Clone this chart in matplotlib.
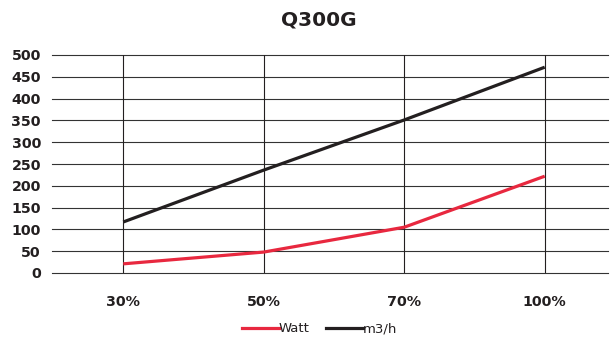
import matplotlib
matplotlib.use("Agg")
import matplotlib.pyplot as plt
from matplotlib.lines import Line2D

categories = ["30%", "50%", "70%", "100%"]
watt = [21, 48, 105, 222]
flow = [117, 236, 351, 472]
yticks = [0, 50, 100, 150, 200, 250, 300, 350, 400, 450, 500]
series_names = ["Watt", "m3/h"]
series_colors = ["#e8283f", "#231f20"]

plt.rcParams["font.family"] = ["DejaVu Sans"]

fig = plt.figure(figsize=(6.11, 3.37), dpi=100)
ax = fig.add_axes([52 / 611, 1 - 273 / 337, 1 - 52 / 611 - 0.005, 218 / 337])

x = list(range(len(categories)))
ax.plot(x, watt, color=series_colors[0], lw=2.3, solid_capstyle="butt", zorder=3)
ax.plot(x, flow, color=series_colors[1], lw=2.3, solid_capstyle="butt", zorder=3)

ax.set_xlim(-0.507, 3.45)
ax.set_ylim(0, 500)
ax.set_yticks(yticks)
ax.set_yticklabels([str(v) for v in yticks], fontsize=10.3, fontweight="bold", color="#231f20")
ax.set_xticks(x)
ax.set_xticklabels(categories, fontsize=10.3, fontweight="bold", color="#231f20")
ax.tick_params(axis="both", length=0)
ax.tick_params(axis="y", pad=8)
ax.tick_params(axis="x", pad=16)

for v in yticks:
    ax.axhline(v, color="#333333", lw=0.8, zorder=1, clip_on=False)
for xi in x:
    ax.axvline(xi, color="#231f20", lw=0.8, zorder=1)
for s in ax.spines.values():
    s.set_visible(False)

fig.text(0.522, 0.94, "Q300G", ha="center", va="center", fontsize=14.5, fontweight="bold", color="#231f20")

# legend drawn as line samples with text beside them
leg_y = 1 - 328 / 337
leg_x = [242 / 611, 326 / 611]
for x0, name, col in zip(leg_x, series_names, series_colors):
    fig.add_artist(Line2D([x0, x0 + 37 / 611], [leg_y, leg_y], color=col, lw=2.3,
                          transform=fig.transFigure))
    fig.text(x0 + 37 / 611, leg_y - 4 / 337, name, ha="left", va="baseline",
             fontsize=9.5, color="#231f20")

fig.savefig("out.png", dpi=100)
